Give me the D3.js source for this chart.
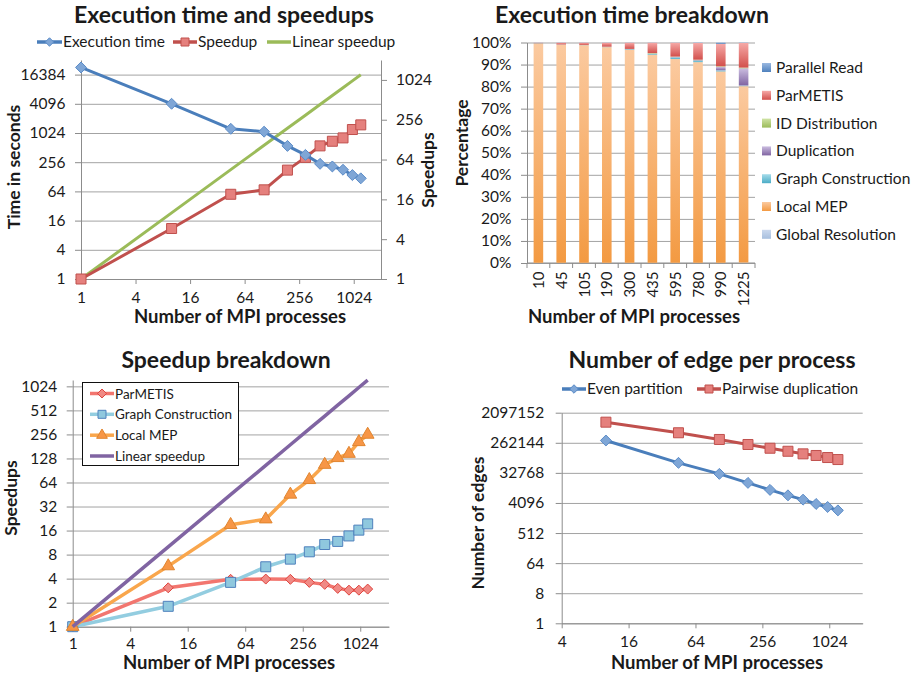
<!DOCTYPE html>
<html>
<head>
<meta charset="utf-8">
<style>
  body { margin: 0; background: #fff; }
  text { font-family: Lato, "Open Sans", sans-serif; fill: #1a1a1a; }
  .title { font-size: 23px; font-weight: bold; }
  .axis-title { font-size: 18.5px; font-weight: bold; }
  .y-title { font-size: 17.5px; font-weight: bold; }
  .tick text { font-size: 15.5px; font-family: Lato, "Open Sans", sans-serif; fill: #1a1a1a; }
  .legend text { font-size: 15.5px; }
  .legend.small text { font-size: 13.5px; }
  .axis .domain, .axis line { stroke: #8c8c8c; }
  .grid line { stroke: #a3a3a3; }
  .grid .domain { display: none; }
</style>
</head>
<body>
<div id="chart"></div>
<script src="https://d3js.org/d3.v7.min.js"></script>
<script>
// ---- data ----
const procs = [1, 10, 45, 105, 190, 300, 435, 595, 780, 990, 1225];
const execTime = [23000, 4100, 1250, 1090, 555, 362, 237, 209, 179, 139, 119];
const speedup = [1, 5.8, 19.1, 22.3, 44.3, 69, 103, 121, 136, 182, 214];
const linearSpeedup = [1, 10, 45, 105, 190, 300, 435, 595, 780, 990, 1225];

const breakdownCats = ['10', '45', '105', '190', '300', '435', '595', '780', '990', '1225'];
const globalResolution = [0.1, 0.1, 0.1, 0.1, 0.1, 0.1, 0.1, 0.1, 0.1, 0.2];
const localMEP = [99.5, 98.9, 98.7, 97.8, 96.5, 94.4, 92.4, 91.0, 86.8, 80.0];
const graphConstruction = [0.1, 0.1, 0.1, 0.2, 0.3, 0.4, 0.8, 0.7, 0.5, 0.3];
const duplication = [0, 0, 0, 0, 0.1, 0.1, 0.1, 0.2, 1.5, 7.8];
const idDistribution = [0, 0, 0, 0, 0.1, 0.2, 0.2, 0.2, 0.3, 0.3];
const parMETIS = [0.2, 0.8, 1.0, 1.8, 2.8, 4.7, 6.3, 7.6, 10.2, 11.2];
const parallelRead = [0.1, 0.1, 0.1, 0.1, 0.1, 0.1, 0.1, 0.2, 0.6, 0.2];

const parmetisSpeedup = [1, 3.07, 3.92, 3.95, 3.92, 3.59, 3.39, 3.02, 2.87, 2.87, 2.96];
const graphSpeedup = [1, 1.8, 3.59, 5.63, 7.02, 8.67, 10.7, 11.7, 13.7, 16.2, 19.4];
const localMEPSpeedup = [1, 5.74, 18.9, 22.2, 45.3, 69, 107, 130, 147, 206, 255];

const edgeProcs = [10, 45, 105, 190, 300, 435, 595, 780, 990, 1225];
const evenPartition = [307000, 65500, 30600, 16400, 10100, 6940, 5150, 3820, 3100, 2450];
const pairwiseDup = [1090000, 524000, 330000, 233000, 180000, 146000, 122000, 109000, 94600, 82300];

// tick labels
const procTicks = [1, 4, 16, 64, 256, 1024];
const timeTicks = [1, 4, 16, 64, 256, 1024, 4096, 16384];
const speedupRightTicks = [1, 4, 16, 64, 256, 1024];
const pctTicks = [0, 0.1, 0.2, 0.3, 0.4, 0.5, 0.6, 0.7, 0.8, 0.9, 1];
const breakdownTicks = [1, 2, 4, 8, 16, 32, 64, 128, 256, 512, 1024];
const edgeTicks = [1, 8, 64, 512, 4096, 32768, 262144, 2097152];
const edgeProcTicks = [4, 16, 64, 256, 1024];

const svg = d3.select('#chart').append('svg')
    .attr('width', 916).attr('height', 675);
svg.append('rect').attr('width', 916).attr('height', 675).attr('fill', '#fff');
const defs = svg.append('defs');

const rhombus = {
    draw(ctx, size) {
        const r = Math.sqrt(size / 2);
        ctx.moveTo(0, -r); ctx.lineTo(r, 0); ctx.lineTo(0, r); ctx.lineTo(-r, 0); ctx.closePath();
    }
};

function vGradient(id, top, bottom) {
    const g = defs.append('linearGradient').attr('id', id)
        .attr('x1', 0).attr('y1', 0).attr('x2', 0).attr('y2', 1);
    g.append('stop').attr('offset', '0%').attr('stop-color', top);
    g.append('stop').attr('offset', '100%').attr('stop-color', bottom);
    return `url(#${id})`;
}

function text(x, y, str, cls, anchor, rotate) {
    return svg.append('text').attr('class', cls)
        .attr('text-anchor', anchor || 'middle')
        .attr('transform', `translate(${x},${y})` + (rotate ? ` rotate(${rotate})` : ''))
        .text(str);
}

function grid(scale, ticks, x0, x1) {
    svg.append('g').attr('class', 'grid')
        .attr('transform', `translate(${x0},0)`)
        .call(d3.axisLeft(scale).tickValues(ticks).tickSize(-(x1 - x0)).tickFormat(''));
}

function leftAxis(scale, ticks, x, fmt, pad) {
    svg.append('g').attr('class', 'axis')
        .attr('transform', `translate(${x},0)`)
        .call(d3.axisLeft(scale).tickValues(ticks).tickSize(6).tickPadding(pad || 9.5)
            .tickSizeOuter(0).tickFormat(fmt || d3.format('d')));
}

function bottomAxis(scale, ticks, y, pad) {
    svg.append('g').attr('class', 'axis')
        .attr('transform', `translate(0,${y})`)
        .call(d3.axisBottom(scale).tickValues(ticks).tickSize(5).tickPadding(pad || 9)
            .tickSizeOuter(0).tickFormat(d3.format('d')));
}

function series(xs, ys, x, y, opt) {
    const pts = xs.map((d, i) => [x(d), y(ys[i])]);
    svg.append('path').attr('d', d3.line()(pts))
        .attr('fill', 'none').attr('stroke', opt.color).attr('stroke-width', opt.width || 3)
        .attr('stroke-linejoin', 'round');
    if (opt.symbol) {
        svg.append('g').selectAll('path').data(pts).join('path')
            .attr('transform', d => `translate(${d[0]},${d[1]})`)
            .attr('d', d3.symbol(opt.symbol, opt.size))
            .attr('fill', opt.fill).attr('stroke', opt.stroke).attr('stroke-width', 1);
    }
}

function legendLine(x, y, w, label, opt, cls) {
    const g = svg.append('g').attr('class', 'legend' + (cls ? ' ' + cls : ''));
    g.append('line').attr('x1', x).attr('x2', x + w).attr('y1', y).attr('y2', y)
        .attr('stroke', opt.color).attr('stroke-width', opt.width || 3.5);
    if (opt.symbol) {
        g.append('path').attr('transform', `translate(${x + w / 2},${y})`)
            .attr('d', d3.symbol(opt.symbol, opt.lsize || opt.size))
            .attr('fill', opt.fill).attr('stroke', opt.stroke);
    }
    g.append('text').attr('x', x + w + 1).attr('y', y + 5).text(label);
}

// ---- Panel 1: Execution time and speedups ----
{
    const x = d3.scaleLog().base(2).domain([1, 2048]).range([81, 381]);
    const yL = d3.scaleLog().base(2).domain([1, 32768]).range([279, 60]);
    const yR = d3.scaleLog().base(2).domain([1, 2048]).range([279, 60]);
    grid(yL, timeTicks, 81, 381);
    leftAxis(yL, timeTicks, 81);
    svg.append('g').attr('class', 'axis').attr('transform', 'translate(381,0)')
        .call(d3.axisRight(yR).tickValues(speedupRightTicks).tickSize(6).tickPadding(9)
            .tickSizeOuter(0).tickFormat(d3.format('d')));
    bottomAxis(x, procTicks, 279, 8);

    const blue = { color: '#4a7ebb', symbol: rhombus, size: 60, fill: '#7fa6d6', stroke: '#5b8cc8', lsize: 36 };
    const red = { color: '#c0504d', symbol: d3.symbolSquare, size: 100, fill: '#e5807d', stroke: '#c0504d', lsize: 64 };
    const green = { color: '#9bbb59' };
    series(procs, linearSpeedup, x, yR, green);
    series(procs, speedup, x, yR, red);
    series(procs, execTime, x, yL, blue);

    text(224, 23, 'Execution time and speedups', 'title');
    legendLine(37, 42, 25, 'Execution time', blue);
    legendLine(173, 42, 24, 'Speedup', red);
    legendLine(267, 42, 24, 'Linear speedup', green);
    text(20, 167, 'Time in seconds', 'y-title', 'middle', -90);
    text(434, 170, 'Speedups', 'y-title', 'middle', -90);
    text(240, 322.5, 'Number of MPI processes', 'axis-title');
}

// ---- Panel 2: Execution time breakdown ----
{
    const keys = ['Global Resolution', 'Local MEP', 'Graph Construction', 'Duplication',
        'ID Distribution', 'ParMETIS', 'Parallel Read'];
    const cols = [globalResolution, localMEP, graphConstruction, duplication,
        idDistribution, parMETIS, parallelRead];
    const colors = {
        'Parallel Read': ['#9ab8e0', '#4f81bd'],
        'ParMETIS': ['#f6a9a7', '#d2504c'],
        'ID Distribution': ['#cfe3a4', '#9bbb59'],
        'Duplication': ['#cbbde0', '#8064a2'],
        'Graph Construction': ['#a6dcea', '#4bacc6'],
        'Local MEP': ['#fbcaa0', '#f39a42'],
        'Global Resolution': ['#cbd9ee', '#a7bfde']
    };
    const fills = {};
    keys.forEach((k, i) => { fills[k] = vGradient('g' + i, colors[k][0], colors[k][1]); });

    const table = breakdownCats.map((c, i) => {
        const row = { cat: c };
        keys.forEach((k, j) => { row[k] = cols[j][i]; });
        return row;
    });
    const stacked = d3.stack().keys(keys).offset(d3.stackOffsetExpand)(table);

    const x = d3.scaleBand().domain(breakdownCats).range([527, 755]).paddingInner(0.58).paddingOuter(0.29);
    const y = d3.scaleLinear().domain([0, 1]).range([263, 42.5]);

    grid(y, pctTicks, 527, 755);
    leftAxis(y, pctTicks, 527, d3.format('.0%'));

    // x axis: ticks at band boundaries
    const xa = svg.append('g').attr('class', 'axis');
    xa.append('line').attr('x1', 527).attr('x2', 755).attr('y1', 263).attr('y2', 263);
    const step = x.step();
    xa.selectAll('.bt').data(d3.range(breakdownCats.length + 1)).join('line')
        .attr('x1', i => 527 + i * step).attr('x2', i => 527 + i * step)
        .attr('y1', 263).attr('y2', 268);
    svg.append('g').selectAll('text').data(breakdownCats).join('text')
        .attr('text-anchor', 'end').attr('font-size', 15)
        .attr('transform', d => `translate(${x(d) + x.bandwidth() / 2 + 5.5},271.5) rotate(-90)`)
        .text(d => d);

    svg.append('g').selectAll('g').data(stacked).join('g')
        .attr('fill', d => fills[d.key])
        .selectAll('rect').data(d => d).join('rect')
        .attr('x', d => x(d.data.cat))
        .attr('width', x.bandwidth())
        .attr('y', d => y(d[1]))
        .attr('height', d => Math.max(0, y(d[0]) - y(d[1])));

    const lg = svg.append('g').attr('class', 'legend');
    keys.slice().reverse().forEach((k, i) => {
        const cy = 67.5 + i * 27.8;
        lg.append('rect').attr('x', 762).attr('y', cy - 4.5).attr('width', 9).attr('height', 9)
            .attr('fill', fills[k]);
        lg.append('text').attr('x', 776).attr('y', cy + 5.5).text(k);
    });

    text(632, 23, 'Execution time breakdown', 'title');
    text(468, 143, 'Percentage', 'y-title', 'middle', -90);
    text(634, 322.5, 'Number of MPI processes', 'axis-title');
}

// ---- Panel 3: Speedup breakdown ----
{
    const x = d3.scaleLog().base(2).domain([1, 2048]).range([72.7, 389]);
    const y = d3.scaleLog().base(2).domain([1, 1230]).range([626.7, 380]);
    grid(y, breakdownTicks, 72.7, 389);
    leftAxis(y, breakdownTicks, 72.7);
    bottomAxis(x, procTicks, 626.7, 6.5);

    const parm = { color: '#f2766f', width: 3.5, symbol: rhombus, size: 50, fill: '#f08a85', stroke: '#e0443e', lsize: 40 };
    const gc = { color: '#93cde0', width: 3.5, symbol: d3.symbolSquare, size: 100, fill: '#8fc8de', stroke: '#4f81bd', lsize: 64 };
    const lm = { color: '#f9a64c', width: 3.5, symbol: d3.symbolTriangle, size: 70, fill: '#f79646', stroke: '#e0852f', lsize: 50 };
    const lin = { color: '#8064a2', width: 3.5 };
    series(procs, parmetisSpeedup, x, y, parm);
    series(procs, graphSpeedup, x, y, gc);
    series(procs, localMEPSpeedup, x, y, lm);
    series(procs, linearSpeedup, x, y, lin);

    svg.append('rect').attr('x', 82.5).attr('y', 382.5).attr('width', 156).attr('height', 83)
        .attr('fill', '#fff').attr('stroke', '#111').attr('stroke-width', 1);
    legendLine(90, 393.5, 24, 'ParMETIS', parm, 'small');
    legendLine(90, 414.3, 24, 'Graph Construction', gc, 'small');
    legendLine(90, 435.2, 24, 'Local MEP', lm, 'small');
    legendLine(90, 456, 24, 'Linear speedup', lin, 'small');

    text(226, 368, 'Speedup breakdown', 'title');
    text(17, 498, 'Speedups', 'y-title', 'middle', -90);
    text(229, 669, 'Number of MPI processes', 'axis-title');
}

// ---- Panel 4: Number of edge per process ----
{
    const x = d3.scaleLog().base(2).domain([4, 2048]).range([561.7, 862.7]);
    const y = d3.scaleLog().base(2).domain([1, 2097152]).range([623.3, 412.7]);
    grid(y, edgeTicks, 561.7, 862.7);
    leftAxis(y, edgeTicks, 561.7, null, 11.5);
    bottomAxis(x, edgeProcTicks, 623.3, 8);

    const blue = { color: '#4a7ebb', symbol: rhombus, size: 60, fill: '#7fa6d6', stroke: '#5b8cc8', lsize: 36 };
    const red = { color: '#c0504d', symbol: d3.symbolSquare, size: 100, fill: '#e5807d', stroke: '#c0504d', lsize: 64 };
    series(edgeProcs, evenPartition, x, y, blue);
    series(edgeProcs, pairwiseDup, x, y, red);

    legendLine(562, 389, 24, 'Even partition', blue);
    legendLine(697, 389, 24, 'Pairwise duplication', red);

    text(712, 368, 'Number of edge per process', 'title');
    text(484, 523, 'Number of edges', 'y-title', 'middle', -90);
    text(717, 669, 'Number of MPI processes', 'axis-title');
}
</script>
</body>
</html>
